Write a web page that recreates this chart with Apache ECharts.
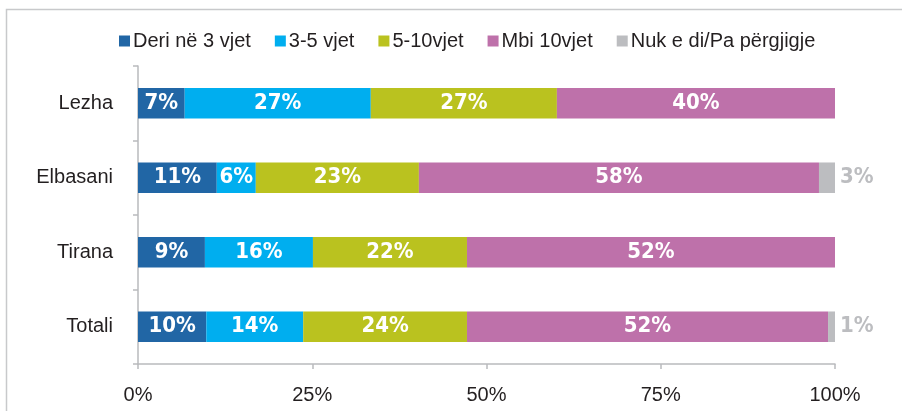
<!DOCTYPE html>
<html>
<head>
<meta charset="utf-8">
<script src="https://cdn.jsdelivr.net/npm/echarts@6/dist/echarts.min.js"></script>
<style>
  html, body { margin: 0; padding: 0; background: #fff; }
  #main { width: 902px; height: 411px; }
</style>
</head>
<body>
<div id="main"></div>
<script>
// kategoritë (nga lart poshtë)
var categories = ['Lezha', 'Elbasani', 'Tirana', 'Totali'];
var seriesNames = ['Deri në 3 vjet', '3-5 vjet', '5-10vjet', 'Mbi 10vjet', 'Nuk e di/Pa përgjigje'];

// vlerat e lexuara nga gjatësia e shiritave
var deri3 = [6.7, 11.3, 9.6, 9.8];
var vjet3_5 = [26.7, 5.6, 15.5, 13.9];
var vjet5_10 = [26.7, 23.4, 22.1, 23.5];
var mbi10 = [39.9, 57.4, 52.8, 51.8];
var nukDi = [0, 2.3, 0, 1.1];

// etiketat e shkruara mbi shirita
var lblDeri3 = [7, 11, 9, 10];
var lbl3_5 = [27, 6, 16, 14];
var lbl5_10 = [27, 23, 22, 24];
var lblMbi10 = [40, 58, 52, 52];
var lblNuk = [null, 3, null, 1];

var xTicks = ['0%', '25%', '50%', '75%', '100%'];

var colors = ['#2166a5', '#00aeef', '#bac21f', '#be71aa', '#bcbdc0'];
var axisColor = '#b9babd';
var condensed = '"DejaVu Sans Condensed", "DejaVu Sans", sans-serif';

var chart = echarts.init(document.getElementById('main'));

function mk(i, data, labels, inside) {
  return {
    name: seriesNames[i],
    type: 'bar',
    stack: 'total',
    data: data,
    barCategoryGap: '59%',
    itemStyle: { color: colors[i] },
    label: {
      show: true,
      position: inside ? 'inside' : 'right',
      distance: 5,
      color: inside ? '#fff' : '#bcbdc0',
      fontFamily: condensed,
      fontWeight: 'bold',
      fontSize: 22,
      formatter: function (p) {
        var v = labels[p.dataIndex];
        return v == null ? '' : v + '%';
      }
    }
  };
}

var option = {
  backgroundColor: '#fff',
  animation: false,
  graphic: [{
    type: 'rect',
    shape: { x: 6.5, y: 9.5, width: 920, height: 420 },
    style: { fill: 'none', stroke: '#c8c9cb', lineWidth: 1.5 },
    silent: true
  }],
  legend: {
    top: 31,
    left: 119,
    padding: 0,
    itemWidth: 11,
    itemHeight: 11,
    itemGap: 24,
    icon: 'rect',
    textStyle: { fontFamily: 'Liberation Sans', fontSize: 20, color: '#231f20', padding: [0, 0, 0, -2] },
    data: seriesNames
  },
  grid: { left: 138, right: 67, top: 66, bottom: 47 },
  xAxis: {
    type: 'value',
    min: 0,
    max: 100,
    interval: 25,
    splitLine: { show: false },
    axisLine: { show: true, lineStyle: { color: axisColor, width: 1.5 } },
    axisTick: { show: true, length: 5, lineStyle: { color: axisColor, width: 1.5 } },
    axisLabel: {
      margin: 21,
      fontFamily: 'Liberation Sans',
      fontSize: 20,
      color: '#231f20',
      formatter: function (v) { return xTicks[v / 25]; }
    }
  },
  yAxis: {
    type: 'category',
    inverse: true,
    data: categories,
    axisLine: { show: true, lineStyle: { color: axisColor, width: 1.5 } },
    axisTick: { show: true, length: 5, lineStyle: { color: axisColor, width: 1.5 } },
    axisLabel: {
      margin: 25,
      fontFamily: 'Liberation Sans',
      fontSize: 20,
      color: '#231f20'
    }
  },
  series: [
    mk(0, deri3, lblDeri3, true),
    mk(1, vjet3_5, lbl3_5, true),
    mk(2, vjet5_10, lbl5_10, true),
    mk(3, mbi10, lblMbi10, true),
    mk(4, nukDi, lblNuk, false)
  ]
};

chart.setOption(option);
</script>
</body>
</html>
